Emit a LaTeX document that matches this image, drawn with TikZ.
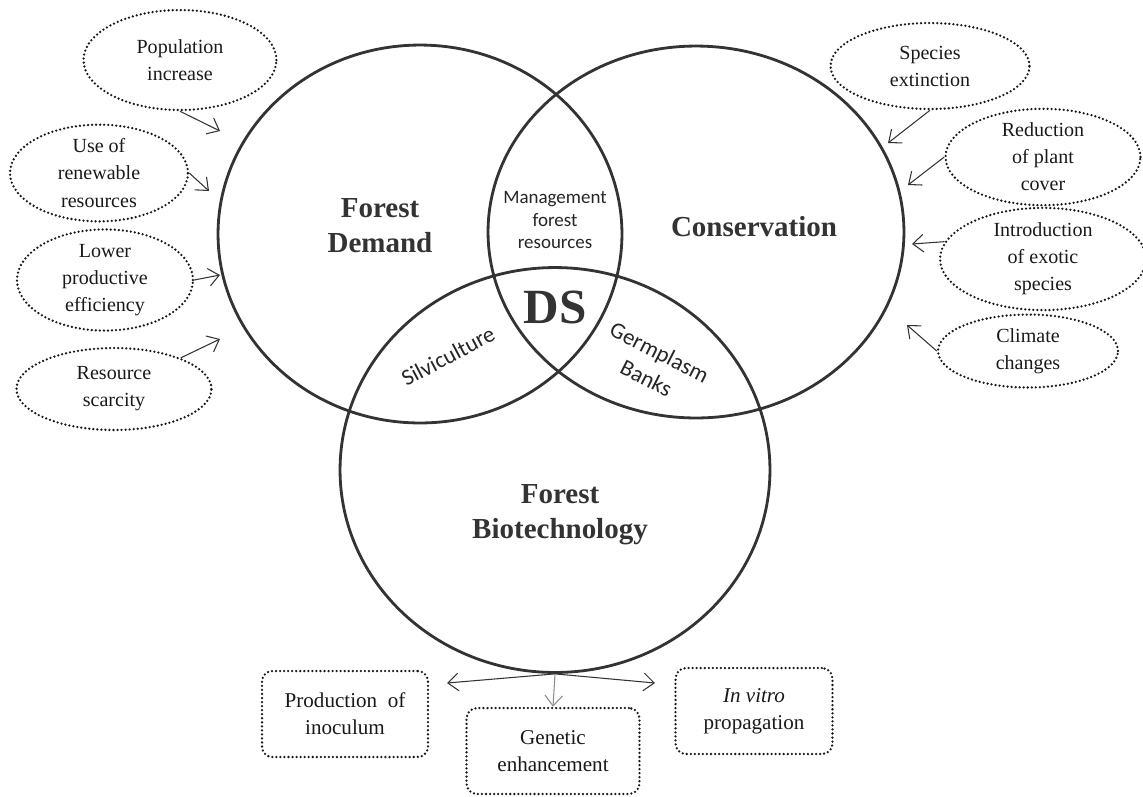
\documentclass[tikz,border=0pt]{standalone}
\usepackage{fontspec}
\setmainfont{Liberation Serif}
\newfontfamily\calibrifont{Carlito}
\usetikzlibrary{shapes.geometric,arrows.meta}

\begin{document}
\begin{tikzpicture}[
    x=0.02cm,
    y=-0.02cm,
    region/.style={
        ellipse,
        draw=black!80,
        line width=1.6pt,
        inner sep=0pt
    },
    title/.style={
        font=\fontsize{16.5}{20}\selectfont\bfseries,
        text=black!80,
        align=center
    },
    overlap/.style={font=\calibrifont\fontsize{13}{16.5}\selectfont, text=black!85, align=center},
    dots/.style={draw=black!90, line width=1.45pt, dash pattern=on 0pt off 2.3pt, line cap=round},
    cause/.style={
        ellipse,
        dots,
        inner sep=0pt,
        align=center,
        text=black!90,
        font=\fontsize{11.4}{15.4}\selectfont
    },
    effect/.style={
        rectangle,
        dots,
        rounded corners=6pt,
        align=center,
        text=black!90,
        minimum height=1.72cm,
        font=\fontsize{12}{15.4}\selectfont
    },
    arrow/.style={-{Straight Barb[length=6pt,width=10pt]}, draw=black!80, line width=0.6pt}
]
\useasboundingbox (0,0) rectangle (1143,796);

% ============================================================
% THREE SETS
% ============================================================
\node[region, minimum width=8.08cm, minimum height=7.56cm] (dem) at (420,234) {};
\node[region, minimum width=8.32cm, minimum height=7.44cm] (cons) at (696,232) {};
\node[region, minimum width=8.6cm, minimum height=8.1cm] (bio) at (555,470) {};

\node[title] (demlbl) at (380,226) {Forest\\Demand};
\node[title] (conslbl) at (754,227) {Conservation};
\node[title] (biolbl) at (560,515) {Forest\\Biotechnology};

% ============================================================
% INTERSECTIONS
% ============================================================
\node[font=\calibrifont\fontsize{10.8}{13}\selectfont, text=black!85, align=center] (manage) at (555,220)
    {Management\\forest\\resources};
\node[font=\fontsize{28}{30}\selectfont\bfseries, text=black!80] (ds) at (555,307) {DS};
\node[overlap, rotate=28] (silvi) at (448,356) {Silviculture};
\node[overlap, rotate=-27] (germ) at (653,365) {Germplasm\\Banks};

% ============================================================
% PRESSURES ON DEMAND
% ============================================================
\node[cause, minimum width=3.86cm, minimum height=2.0cm] (pop) at (180,60) {Population\\increase};
\node[cause, minimum width=3.56cm, minimum height=1.8cm] (renew) at (99,173) {Use of\\renewable\\resources};
\node[cause, minimum width=3.52cm, minimum height=1.8cm] (lower) at (105,280) {Lower\\productive\\efficiency};
\node[cause, minimum width=3.9cm, minimum height=1.64cm] (scarce) at (114,389) {Resource\\scarcity};

\coordinate (popend) at (220,131);
\coordinate (renewend) at (209,191);
\coordinate (lowerend) at (220,275);
\coordinate (scarceend) at (220,339);

\draw[arrow] (pop.south) -- (popend);
\draw[arrow] (renew.east) -- (renewend);
\draw[arrow] (lower.east) -- (lowerend);
\draw[arrow] (scarce.25) -- (scarceend);

% ============================================================
% PRESSURES ON CONSERVATION
% ============================================================
\node[cause, minimum width=3.98cm, minimum height=1.72cm] (extinct) at (930,66) {Species\\extinction};
\node[cause, minimum width=3.9cm, minimum height=1.88cm] (cover) at (1043,157) {Reduction\\of plant\\cover};
\node[cause, minimum width=4.12cm, minimum height=1.7cm] (exotic) at (1043,259) {Introduction\\of exotic\\species};
\node[cause, minimum width=3.6cm, minimum height=1.46cm] (climate) at (1028,351) {Climate\\changes};

\coordinate (extinctend) at (888,143);
\coordinate (coverend) at (908,185);
\coordinate (exoticend) at (912,244);
\coordinate (climateend) at (907,325);

\draw[arrow] (extinct.south) -- (extinctend);
\draw[arrow] (cover.west) -- (coverend);
\draw[arrow] (exotic.170) -- (exoticend);
\draw[arrow] (climate.west) -- (climateend);

% ============================================================
% BIOTECHNOLOGY OUTPUTS
% ============================================================
\node[effect, minimum width=3.32cm] (inoc) at (345,714) {Production~ of\\inoculum};
\node[effect, minimum width=3.46cm] (genetic) at (553,751) {Genetic\\enhancement};
\node[effect, minimum width=3.14cm] (vitro) at (754,711) {\textit{In vitro}\\propagation};

\coordinate (inocend) at (447,683);
\coordinate (vitroend) at (655,683);

\draw[arrow] (bio.south) -- (inocend);
\draw[arrow] (bio.south) -- (vitroend);
\draw[arrow, draw=black!45] (bio.south) -- (genetic.north);

\end{tikzpicture}
\end{document}
